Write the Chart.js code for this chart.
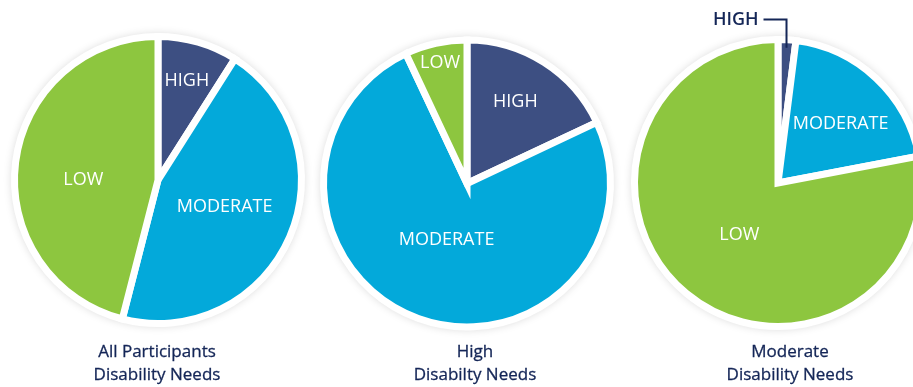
<!DOCTYPE html>
<html>
<head>
<meta charset="utf-8">
<script src="https://cdn.jsdelivr.net/npm/chart.js@4.4.0/dist/chart.umd.min.js"></script>
<style>
  html, body { margin: 0; padding: 0; background: #fff; width: 913px; height: 387px; overflow: hidden; position: relative; }
  .pie { position: absolute; top: 0; width: 320px; height: 366px; }
  .caption { position: absolute; top: 339px; width: 200px; text-align: center; font-family: "Open Sans", sans-serif; font-size: 17px; line-height: 23px; color: #142657; -webkit-text-stroke: 0.3px #142657; }
</style>
</head>
<body>
<div class="pie" style="left:-2.5px"><canvas id="pieAll"></canvas></div>
<div class="pie" style="left:306.5px"><canvas id="pieHigh"></canvas></div>
<div class="pie" style="left:618px"><canvas id="pieModerate"></canvas></div>

<div class="caption" id="capAll" style="left:57px"></div>
<div class="caption" id="capHigh" style="left:375px"></div>
<div class="caption" id="capModerate" style="left:690px"></div>

<script>
'use strict';

// shares of participants by disability need level (%)
const categories = ['HIGH', 'MODERATE', 'LOW'];
const allParticipants = [9, 45, 46];
const highNeeds = [18, 75, 7];
const moderateNeeds = [2, 20, 78];

const captions = [
  ['All Participants', 'Disability Needs'],
  ['High', 'Disabilty Needs'],
  ['Moderate', 'Disability Needs']
];

const sliceColors = ['#3d4f82', '#03a9da', '#8dc63f'];
const navy = '#142657';

// white disc with a soft shadow under each pie
const plate = {
  id: 'plate',
  beforeDatasetsDraw(chart) {
    const ctx = chart.ctx;
    const arc = chart.getDatasetMeta(0).data[0];
    const {x, y, outerRadius} = arc.getProps(['x', 'y', 'outerRadius'], true);
    ctx.save();
    ctx.shadowColor = 'rgba(0,0,0,0.18)';
    ctx.shadowBlur = 10;
    ctx.fillStyle = '#fff';
    ctx.beginPath();
    ctx.arc(x, y, outerRadius + 2, 0, Math.PI * 2);
    ctx.fill();
    ctx.restore();
  }
};

// category names written on the slices (or outside with a leader line)
const sliceLabels = {
  id: 'sliceLabels',
  afterDatasetsDraw(chart, args, opts) {
    const ctx = chart.ctx;
    const meta = chart.getDatasetMeta(0);
    ctx.save();
    ctx.textBaseline = 'middle';
    meta.data.forEach((arc, i) => {
      const {x, y, startAngle, endAngle, outerRadius} =
        arc.getProps(['x', 'y', 'startAngle', 'endAngle', 'outerRadius'], true);
      const mid = (startAngle + endAngle) / 2 + (opts.turn ? opts.turn[i] : 0);
      const label = chart.data.labels[i];

      if (opts.outside && opts.outside[i]) {
        const lx = x + Math.cos(mid) * (outerRadius - 8);
        const ly = y + Math.sin(mid) * (outerRadius - 8);
        const top = y - outerRadius - 20;
        ctx.strokeStyle = navy;
        ctx.lineWidth = 2;
        ctx.beginPath();
        ctx.moveTo(lx - 23, top);
        ctx.lineTo(lx, top);
        ctx.lineTo(lx, ly);
        ctx.stroke();
        ctx.fillStyle = navy;
        ctx.font = '600 18px "Open Sans"';
        ctx.textAlign = 'right';
        ctx.fillText(label, lx - 28, top);
        return;
      }

      const r = outerRadius * opts.radius[i];
      ctx.fillStyle = '#fff';
      ctx.font = '18px "Open Sans"';
      ctx.textAlign = 'center';
      ctx.fillText(label, x + Math.cos(mid) * r, y + Math.sin(mid) * r);
    });
    ctx.restore();
  }
};

function makePie(id, values, padding, labelOpts) {
  return new Chart(document.getElementById(id), {
    type: 'pie',
    data: {
      labels: categories,
      datasets: [{
        data: values,
        backgroundColor: sliceColors,
        borderColor: '#fff',
        borderWidth: 7,
        borderJoinStyle: 'miter',
        radius: 143.5
      }]
    },
    options: {
      responsive: true,
      maintainAspectRatio: false,
      animation: false,
      layout: { padding: padding },
      plugins: {
        legend: { display: false },
        tooltip: { enabled: false },
        sliceLabels: labelOpts
      }
    },
    plugins: [plate, sliceLabels]
  });
}

makePie('pieAll', allParticipants, { bottom: 6 }, {
  radius: [0.72, 0.5, 0.52],
  turn: [0, -0.03, -0.12]
});
makePie('pieHigh', highNeeds, { top: 1 }, {
  radius: [0.66, 0.42, 0.86],
  turn: [-0.03, 0, 0]
});
makePie('pieModerate', moderateNeeds, 0, {
  radius: [0, 0.6, 0.45],
  outside: [true, false, false],
  turn: [0, 0.06, -0.05]
});

['capAll', 'capHigh', 'capModerate'].forEach((id, i) => {
  document.getElementById(id).innerHTML = captions[i].join('<br>');
});
</script>
</body>
</html>
